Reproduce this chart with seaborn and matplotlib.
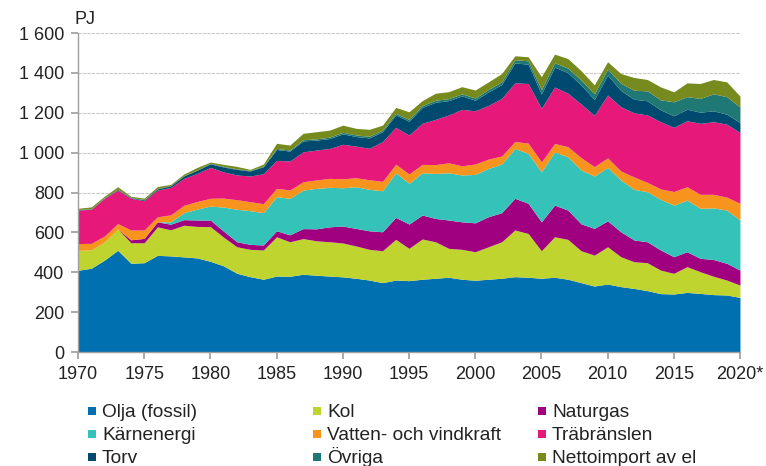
import numpy as np
import pandas as pd
import seaborn as sns
import matplotlib.pyplot as plt
from matplotlib.patches import Rectangle
from matplotlib.ticker import FuncFormatter

years = list(range(1970, 2021))

# energy consumption by source, PJ
olja = [410, 420, 461, 510, 445, 448, 485, 482, 477, 472,
        455, 432, 395, 378, 365, 381, 380, 390, 385, 381,
        377, 370, 361, 348, 361, 358, 365, 370, 375, 365,
        360, 365, 370, 378, 375, 370, 375, 365, 348, 331,
        341, 328, 319, 308, 293, 291, 299, 294, 288, 286, 274]
kol = [100, 92, 92, 107, 103, 100, 143, 131, 159, 158,
       174, 144, 133, 137, 147, 197, 173, 179, 173, 172,
       170, 162, 154, 160, 204, 162, 202, 183, 145, 150,
       143, 163, 183, 234, 220, 138, 203, 200, 160, 155,
       187, 150, 134, 140, 118, 104, 129, 109, 92, 75, 62]
naturgas = [0, 0, 0, 0, 15, 22, 25, 28, 28, 32,
            33, 30, 25, 25, 25, 30, 35, 50, 60, 75,
            85, 88, 93, 95, 110, 122, 120, 117, 142, 138,
            145, 151, 146, 159, 151, 145, 159, 147, 135, 134,
            130, 125, 109, 105, 101, 83, 75, 67, 84, 84, 75]
karnenergi = [0, 0, 0, 0, 0, 0, 0, 12, 35, 55,
              70, 121, 163, 169, 162, 171, 183, 193, 203, 198,
              192, 209, 208, 206, 224, 204, 212, 226, 237, 235,
              243, 242, 244, 250, 250, 251, 267, 267, 270, 263,
              268, 260, 254, 251, 254, 259, 259, 251, 259, 267, 251]
vatten_vind = [34, 33, 29, 27, 49, 42, 25, 35, 37, 38,
               39, 45, 48, 45, 45, 42, 42, 42, 42, 45,
               45, 45, 48, 47, 43, 47, 42, 44, 50, 46,
               52, 47, 40, 35, 52, 50, 42, 51, 62, 47,
               48, 45, 62, 47, 52, 68, 67, 70, 68, 65, 84]
trabransle = [168, 171, 189, 168, 159, 147, 134, 138, 135, 141,
              155, 131, 124, 129, 150, 140, 145, 150, 150, 150,
              173, 159, 158, 199, 185, 195, 206, 227, 240, 283,
              267, 269, 289, 294, 299, 268, 283, 268, 269, 257,
              315, 322, 322, 338, 337, 322, 331, 356, 364, 366, 355]
torv = [1, 1, 2, 3, 3, 4, 6, 8, 12, 16,
        18, 25, 28, 25, 35, 55, 50, 55, 50, 50,
        52, 48, 52, 50, 62, 70, 80, 86, 72, 68,
        53, 68, 70, 100, 97, 72, 100, 103, 95, 80,
        100, 82, 68, 71, 60, 58, 58, 56, 55, 50, 50]
ovriga = [2, 2, 2, 2, 2, 2, 2, 2, 2, 2,
          3, 3, 3, 3, 4, 5, 5, 6, 6, 7,
          8, 8, 8, 8, 8, 9, 9, 10, 10, 10,
          11, 12, 13, 16, 17, 22, 22, 23, 25, 28,
          30, 36, 45, 50, 50, 70, 63, 69, 85, 88, 78]
nettoimport = [6, 9, 7, 12, 5, 7, 10, 5, 8, 12,
               6, 10, 12, 5, 10, 26, 25, 32, 36, 35,
               36, 33, 35, 25, 30, 38, 25, 35, 35, 36,
               40, 38, 42, 20, 20, 65, 43, 48, 47, 45,
               37, 49, 64, 57, 65, 50, 69, 75, 72, 74, 55]

names = ["Olja (fossil)", "Kol", "Naturgas", "Kärnenergi",
         "Vatten- och vindkraft", "Träbränslen", "Torv", "Övriga",
         "Nettoimport av el"]
colors = ["#0070b0", "#bfd42e", "#a0007f", "#35c3b9", "#f7941d",
          "#e6197b", "#004a70", "#1f7873", "#768a1e"]

df = pd.DataFrame({"year": years, names[0]: olja, names[1]: kol,
                   names[2]: naturgas, names[3]: karnenergi,
                   names[4]: vatten_vind, names[5]: trabransle,
                   names[6]: torv, names[7]: ovriga, names[8]: nettoimport})

sns.set_theme(style="white")
plt.rcParams['font.family'] = ['Liberation Sans', 'DejaVu Sans']

W, H = 766, 466
fig = plt.figure(figsize=(W / 100, H / 100), dpi=100)
ax = fig.add_axes([0.1018, 0.2446, 0.8642, 0.6845])

ax.stackplot(df["year"], [df[n] for n in names], colors=colors, linewidth=0)

ax.set_xlim(1970, 2020)
ax.set_ylim(0, 1600)
ax.set_yticks(range(0, 1601, 200))
ax.yaxis.set_major_formatter(FuncFormatter(lambda v, p: f"{int(v):,}".replace(",", " ")))
xt = list(range(1970, 2021, 5))
ax.set_xticks(xt)
ax.set_xticklabels([str(t) for t in xt[:-1]] + ["2020*"])
ax.grid(axis="y", color="#c8c8c8", linestyle=(0, (3, 1)), linewidth=0.8)
ax.set_axisbelow(True)
for s in ["top", "right"]:
    ax.spines[s].set_visible(False)
for s in ["left", "bottom"]:
    ax.spines[s].set_color("#a0a0a0")
    ax.spines[s].set_linewidth(1)
ax.tick_params(axis="both", direction="out", length=5, color="#a0a0a0",
               labelsize=13, labelcolor="#222222", pad=5, left=True, bottom=True)
ax.text(-0.005, 1.015, "PJ", transform=ax.transAxes, fontsize=13, color="#222222",
        ha="left", va="bottom")

# legend: 3 x 3 grid, filled row by row, placed in pixels
col_x = [88, 313, 538]
row_y = [411, 434, 457]
for i, name in enumerate(names):
    r, c = divmod(i, 3)
    x0, yc = col_x[c], row_y[r]
    fig.add_artist(Rectangle((x0 / W, 1 - (yc + 4) / H), 8 / W, 8 / H,
                             transform=fig.transFigure, facecolor=colors[i],
                             edgecolor="none"))
    fig.text((x0 + 14) / W, 1 - (yc + 6) / H, name, fontsize=13.8,
             color="#222222", ha="left", va="baseline")

fig.savefig("out.png", dpi=100)
